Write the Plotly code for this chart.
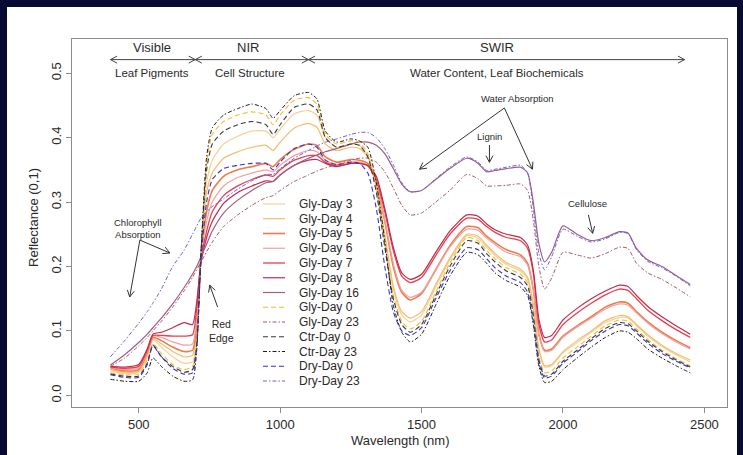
import math
import plotly.graph_objects as go

# ---------------------------------------------------------------- data
wavelength = [400, 450, 500, 530, 550, 580, 620, 660, 690, 705,
              720, 740, 760, 800, 850, 900, 950, 975, 1000, 1050,
              1100, 1130, 1160, 1200, 1250, 1280, 1310, 1340, 1370, 1400,
              1430, 1460, 1500, 1550, 1600, 1660, 1700, 1730, 1760, 1800,
              1850, 1875, 1895, 1915, 1935, 1960, 2000, 2050, 2100, 2150,
              2200, 2230, 2260, 2300, 2350, 2400, 2450]

gly_day3 = [.038, .034, .036, .060, .086, .075, .060, .050, .052, .090,
            .220, .330, .365, .390, .402, .410, .410, .400, .413, .437,
            .442, .435, .400, .385, .390, .388, .372, .325, .245, .165,
            .125, .114, .125, .168, .210, .248, .244, .230, .217, .203,
            .193, .180, .138, .070, .044, .046, .066, .082, .098, .113,
            .121, .120, .108, .092, .076, .063, .052]

gly_day4 = [.040, .036, .038, .063, .088, .080, .068, .060, .062, .100,
            .220, .315, .345, .368, .378, .385, .388, .380, .393, .415,
            .422, .416, .390, .380, .385, .383, .370, .325, .250, .170,
            .130, .120, .130, .172, .213, .250, .247, .233, .220, .206,
            .196, .183, .142, .072, .046, .048, .068, .085, .100, .116,
            .124, .122, .110, .094, .078, .065, .055]

gly_day5 = [.042, .038, .040, .066, .090, .085, .075, .068, .070, .110,
            .215, .285, .318, .340, .350, .355, .360, .355, .366, .382,
            .390, .388, .370, .362, .366, .365, .360, .330, .270, .200,
            .160, .148, .158, .195, .232, .262, .260, .247, .237, .226,
            .218, .205, .165, .095, .070, .072, .092, .108, .122, .137,
            .145, .143, .130, .114, .098, .085, .074]

gly_day6 = [.043, .040, .042, .068, .092, .090, .083, .078, .080, .120,
            .215, .270, .300, .325, .338, .345, .350, .347, .357, .372,
            .380, .378, .365, .358, .362, .362, .357, .330, .272, .205,
            .163, .152, .160, .195, .230, .258, .256, .244, .234, .222,
            .215, .202, .163, .093, .068, .070, .090, .106, .120, .134,
            .142, .140, .128, .112, .096, .083, .072]

gly_day7 = [.044, .042, .045, .070, .093, .093, .092, .092, .094, .135,
            .210, .255, .285, .310, .325, .335, .342, .340, .350, .365,
            .372, .372, .362, .356, .360, .360, .356, .335, .285, .225,
            .185, .175, .183, .217, .250, .275, .273, .262, .253, .245,
            .240, .228, .190, .110, .083, .086, .110, .128, .143, .156,
            .165, .163, .150, .132, .116, .102, .090]

gly_day8 = [.045, .044, .048, .072, .095, .098, .105, .113, .110, .145,
            .205, .245, .270, .298, .315, .325, .333, .332, .342, .357,
            .365, .366, .360, .355, .360, .360, .357, .340, .290, .230,
            .190, .180, .188, .222, .255, .280, .278, .266, .257, .250,
            .245, .233, .195, .118, .090, .093, .117, .135, .150, .162,
            .171, .169, .155, .138, .122, .108, .095]

gly_day16 = [.047, .063, .082, .095, .105, .120, .142, .167, .188, .200,
             .215, .235, .255, .283, .303, .318, .330, .332, .342, .357,
             .368, .373, .378, .383, .390, .393, .393, .388, .375, .352,
             .328, .316, .318, .335, .352, .368, .360, .347, .349, .352,
             .354, .345, .300, .235, .207, .222, .263, .250, .240, .245,
             .254, .252, .228, .210, .200, .186, .172]

gly_day0 = [.035, .032, .033, .055, .080, .065, .048, .040, .045, .080,
            .220, .360, .405, .425, .435, .440, .435, .420, .435, .458,
            .462, .452, .405, .390, .395, .393, .375, .320, .235, .155,
            .115, .103, .115, .160, .205, .245, .240, .225, .212, .198,
            .188, .175, .130, .060, .035, .038, .058, .075, .092, .108,
            .117, .115, .103, .087, .070, .057, .046]

gly_day23 = [.045, .058, .077, .090, .100, .115, .137, .162, .183, .195,
             .207, .223, .238, .262, .280, .295, .307, .310, .318, .332,
             .342, .348, .353, .358, .365, .368, .368, .362, .347, .322,
             .295, .280, .283, .300, .318, .343, .336, .325, .325, .326,
             .328, .318, .272, .200, .165, .182, .222, .218, .213, .220,
             .230, .228, .205, .190, .180, .167, .153]

ctr_day0 = [.033, .030, .030, .050, .077, .060, .045, .036, .040, .080,
            .220, .350, .390, .410, .420, .425, .420, .405, .420, .447,
            .452, .443, .400, .385, .390, .388, .370, .315, .230, .150,
            .110, .098, .110, .155, .200, .240, .236, .220, .207, .193,
            .183, .170, .125, .055, .030, .033, .053, .070, .088, .104,
            .113, .111, .100, .084, .068, .055, .044]

ctr_day23 = [.025, .022, .022, .035, .058, .045, .030, .022, .024, .070,
             .220, .370, .415, .435, .445, .452, .445, .430, .442, .465,
             .470, .460, .410, .393, .398, .395, .385, .330, .240, .140,
             .098, .083, .095, .140, .185, .222, .218, .205, .190, .178,
             .168, .155, .110, .045, .020, .022, .040, .058, .075, .090,
             .100, .098, .088, .072, .058, .046, .035]

dry_day0 = [.032, .028, .028, .048, .078, .060, .042, .033, .035, .075,
            .210, .300, .335, .352, .357, .360, .360, .350, .362, .383,
            .390, .385, .365, .358, .362, .360, .345, .290, .200, .130,
            .100, .093, .105, .150, .193, .229, .226, .212, .198, .185,
            .175, .160, .115, .050, .027, .030, .050, .067, .085, .100,
            .110, .108, .097, .081, .065, .053, .043]

dry_day23 = [.060, .085, .112, .130, .143, .165, .200, .225, .250, .263,
             .275, .285, .293, .305, .320, .333, .343, .343, .352, .368,
             .380, .387, .393, .398, .405, .408, .408, .400, .383, .358,
             .330, .316, .318, .336, .354, .370, .362, .349, .351, .354,
             .357, .345, .290, .220, .195, .215, .258, .247, .238, .243,
             .253, .251, .226, .208, .198, .185, .170]

x_ticks = [500, 1000, 1500, 2000, 2500]
y_ticks = [0.0, 0.1, 0.2, 0.3, 0.4, 0.5]
y_ticktext = ["0.0", "0.1", "0.2", "0.3", "0.4", "0.5"]

regions = [("Visible", "Leaf Pigments", 400, 700, 548, 548),
           ("NIR", "Cell Structure", 700, 1100, 885, 892),
           ("SWIR", "Water Content, Leaf Biochemicals", 1100, 2430, 1768, 1765)]

# ---------------------------------------------------------------- styles
FONT = "Liberation Sans, Arial, Helvetica, sans-serif"
NAVY = "#070b31"
BOX = "#8c8c8c"
TXT = "#2a2a2a"
DASHED = "5px,3px"
DOTDASH = "4px,2px,1.5px,2px"

series = [
    ("Gly-Day 3", gly_day3, "#f7cf98", 1.2, "solid"),
    ("Gly-Day 4", gly_day4, "#f4bd6e", 1.2, "solid"),
    ("Gly-Day 5", gly_day5, "#f07a48", 1.6, "solid"),
    ("Gly-Day 6", gly_day6, "#f2a0a0", 1.2, "solid"),
    ("Gly-Day 7", gly_day7, "#e4404e", 1.3, "solid"),
    ("Gly-Day 8", gly_day8, "#c22c4c", 1.2, "solid"),
    ("Gly-Day 16", gly_day16, "#a05c86", 1.2, "solid"),
    ("Gly-Day 0", gly_day0, "#f0bd2a", 1.1, DASHED),
    ("Gly-Day 23", gly_day23, "#a4586a", 1.0, DOTDASH),
    ("Ctr-Day 0", ctr_day0, "#3a3a3a", 1.1, DASHED),
    ("Ctr-Day 23", ctr_day23, "#1e1e1e", 1.0, DOTDASH),
    ("Dry-Day 0", dry_day0, "#3434c4", 1.1, DASHED),
    ("Dry-Day 23", dry_day23, "#6464e0", 1.0, DOTDASH),
]

X_RANGE = [264, 2580]
Y_RANGE = [-0.018, 0.553]
W, H = 743, 455
ML, MR, MT, MB = 72, 16, 39, 48
PW, PH = W - ML - MR, H - MT - MB
SX = PW / (X_RANGE[1] - X_RANGE[0])   # px per nm
SY = PH / (Y_RANGE[1] - Y_RANGE[0])   # px per reflectance unit


def px_x(p):
    return (p - ML) / PW


def px_y(p):
    return (MT + PH - p) / PH


def head(px, py, qx, qy, length=7.5, ang=28):
    """Open V arrow head at (px, py) for a shaft coming from (qx, qy)."""
    dx, dy = (px - qx) * SX, (py - qy) * SY
    n = math.hypot(dx, dy)
    ux, uy = dx / n, dy / n
    pts = []
    for s in (1, -1):
        a = math.radians(ang) * s
        rx = ux * math.cos(a) - uy * math.sin(a)
        ry = ux * math.sin(a) + uy * math.cos(a)
        pts.append((px - length * rx / SX, py - length * ry / SY))
    return f"M {pts[0][0]},{pts[0][1]} L {px},{py} L {pts[1][0]},{pts[1][1]}"


def arrow(x0, y0, x1, y1, both=False, color="#333333", width=1.0):
    path = f"M {x0},{y0} L {x1},{y1} " + head(x1, y1, x0, y0)
    if both:
        path += " " + head(x0, y0, x1, y1)
    return dict(type="path", path=path, xref="x", yref="y",
                line=dict(color=color, width=width))


fig = go.Figure()

for name, vals, color, width, dash in series:
    fig.add_trace(go.Scatter(
        x=wavelength, y=vals, mode="lines", name=name,
        line=dict(color=color, width=width, dash=dash,
                  shape="spline", smoothing=0.6),
        hoverinfo="skip", showlegend=False))

shapes = []
# dark frame strips round the white sheet
for x0, x1, y0, y1 in [(0, 7, 0, H), (737, W, 0, H), (0, W, 0, 7)]:
    shapes.append(dict(type="rect", xref="paper", yref="paper", layer="above",
                       x0=px_x(x0), x1=px_x(x1), y0=px_y(y1), y1=px_y(y0),
                       fillcolor=NAVY, line=dict(width=0)))

annotations = []

# spectral regions along the top
bar_y = 0.521
for label, sub, x0, x1, xl, xs in regions:
    shapes.append(arrow(x0, bar_y, x1, bar_y, both=True, color="#444444", width=1.0))
    annotations.append(dict(x=xl, y=0.5405, xref="x", yref="y", text=label,
                            showarrow=False, font=dict(size=13, color=TXT)))
    annotations.append(dict(x=xs, y=0.500, xref="x", yref="y", text=sub,
                            showarrow=False, font=dict(size=11.5, color=TXT)))

# feature call-outs
callouts = [
    dict(x=1839, y=0.460, text="Water Absorption", font=dict(size=9.5, color=TXT)),
    dict(x=1740, y=0.401, text="Lignin", font=dict(size=9.5, color=TXT)),
    dict(x=2087, y=0.2985, text="Cellulose", font=dict(size=9.5, color=TXT)),
    dict(x=497, y=0.259, text="Chlorophyll<br>Absorption", font=dict(size=9.5, color=TXT)),
    dict(x=793, y=0.100, text="Red<br>Edge", font=dict(size=10.5, color=TXT)),
]
for a in callouts:
    a.update(xref="x", yref="y", showarrow=False, xanchor="center", yanchor="middle")
annotations += callouts

shapes += [
    arrow(1793, 0.446, 1493, 0.351),
    arrow(1793, 0.446, 1892, 0.351),
    arrow(1740, 0.3885, 1740, 0.3617),
    arrow(2090, 0.280, 2105, 0.2515),
    arrow(504, 0.241, 610, 0.221),
    arrow(504, 0.241, 468, 0.1527),
    arrow(779, 0.137, 751, 0.171),
]

# legend block
leg_x0, leg_x1, leg_tx = px_x(263), px_x(285), px_x(297)
for i, (name, _vals, color, width, dash) in enumerate(series):
    yp = px_y(204 + 14.75 * i)
    shapes.append(dict(type="line", xref="paper", yref="paper",
                       x0=leg_x0, x1=leg_x1, y0=yp, y1=yp,
                       line=dict(color=color, width=width, dash=dash)))
    annotations.append(dict(x=leg_tx, y=yp, xref="paper", yref="paper",
                            text=name, showarrow=False, xanchor="left",
                            yanchor="middle", font=dict(size=12, color=TXT)))

# axis titles
annotations.append(dict(x=px_x(33), y=px_y(218), xref="paper", yref="paper",
                        text="Reflectance (0,1)", textangle=-90, showarrow=False,
                        xanchor="center", yanchor="middle",
                        font=dict(size=13, color=TXT)))
annotations.append(dict(x=px_x(400), y=px_y(440), xref="paper", yref="paper",
                        text="Wavelength (nm)", showarrow=False,
                        xanchor="center", yanchor="middle",
                        font=dict(size=13, color=TXT)))

fig.update_layout(
    width=W, height=H,
    margin=dict(l=ML, r=MR, t=MT, b=MB),
    paper_bgcolor="white", plot_bgcolor="white",
    showlegend=False,
    font=dict(family=FONT, color=TXT),
    shapes=shapes, annotations=annotations,
)
fig.update_xaxes(range=X_RANGE, tickvals=x_ticks, ticks="outside", ticklen=5,
                 tickcolor=BOX, showline=True, linecolor=BOX, linewidth=1,
                 mirror=True, showgrid=False, zeroline=False,
                 tickfont=dict(size=13, color=TXT, family=FONT))
fig.update_yaxes(range=Y_RANGE, tickvals=y_ticks, ticktext=y_ticktext,
                 tickangle=-90, ticks="outside", ticklen=5,
                 tickcolor=BOX, showline=True, linecolor=BOX, linewidth=1,
                 mirror=True, showgrid=False, zeroline=False,
                 tickfont=dict(size=13, color=TXT, family=FONT))

fig.write_html("out.html")
